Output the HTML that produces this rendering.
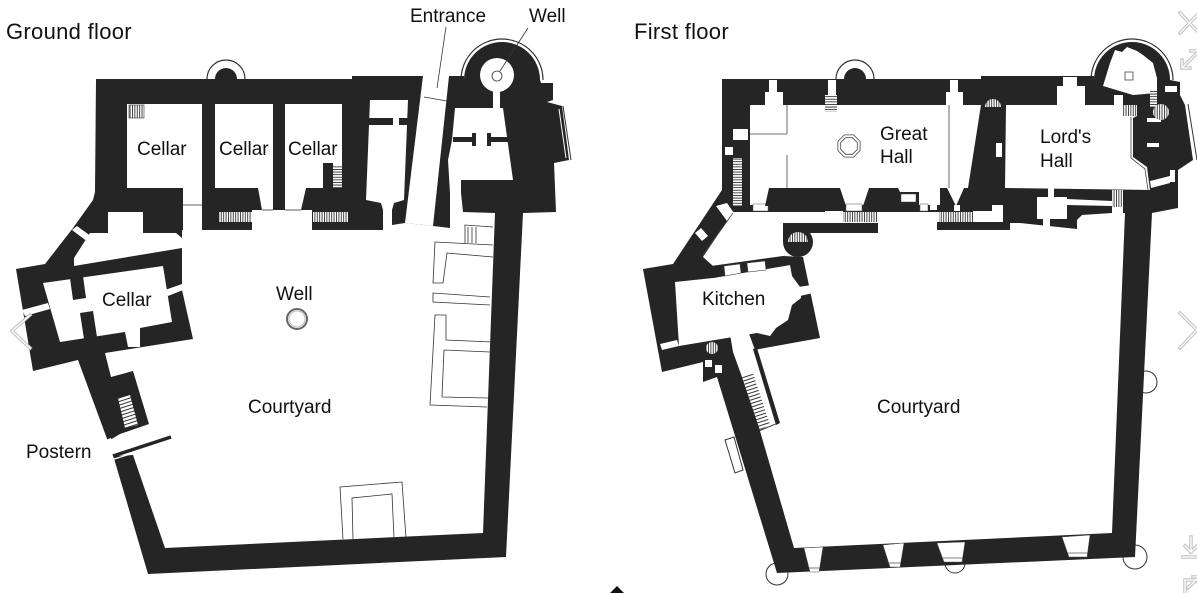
<!DOCTYPE html>
<html><head><meta charset="utf-8"><title>Castle floor plans</title>
<style>
html,body{margin:0;padding:0;background:#fff;overflow:hidden}
svg{display:block}
text{font-family:"Liberation Sans",Arial,sans-serif;fill:#111}
.lbl{font-size:19px}
.ttl{font-size:22px;letter-spacing:0.3px}
</style></head><body>
<svg width="1197" height="593" viewBox="0 0 1197 593" xmlns="http://www.w3.org/2000/svg">
<defs>
<pattern id="vh" width="2.4" height="20" patternUnits="userSpaceOnUse"><rect width="2.4" height="20" fill="#fff"/><rect width="0.9" height="20" fill="#333"/></pattern>
<pattern id="hh" width="20" height="2.6" patternUnits="userSpaceOnUse"><rect width="20" height="2.6" fill="#fff"/><rect width="20" height="0.9" fill="#333"/></pattern>
<pattern id="sh" width="20" height="3.4" patternUnits="userSpaceOnUse" patternTransform="rotate(-18)"><rect width="20" height="3.4" fill="#fff"/><rect width="20" height="1" fill="#333"/></pattern>
</defs>
<rect width="1197" height="593" fill="#fff"/>

<!-- ================= GROUND FLOOR ================= -->
<g>
<circle cx="226" cy="79" r="19" fill="#fff" stroke="#333" stroke-width="1.2"/>
<path d="M461,80 A41,41 0 0 1 543,80" fill="none" stroke="#333" stroke-width="1.2"/>
<line x1="563" y1="106" x2="571" y2="160" stroke="#333" stroke-width="1"/>
<path fill="#252525" d="M96,79 L352,79 L352,76 L464,76 L464,80 A38,38 0 0 1 540,80 L541,83 L553,83 L553,100 L547,102 L562,106 L569,160 L554,163 L556,212 L523,213 L506,557 L148,574 L113,455 L78,360 L33,371 L16,269 L45,264 L73,228 L93,200 L95,192 Z"/>
<circle cx="226" cy="79" r="11" fill="#252525"/>
<line x1="559" y1="109" x2="566" y2="158" stroke="#fff" stroke-width="1"/>

<g fill="#fff">
 <polygon points="127,104 202,104 202,230 183,230 183,188 127,188"/>
 <polygon points="215,104 273,104 273,210 262,210 258,188 215,188"/>
 <polygon points="285,104 342,104 342,188 306,188 301,210 285,210"/>
 <polygon points="370,100 408,100 404,200 394,203 392,210 383,210 381,203 366,200"/>
 <polygon points="423,76 449,76 433,226 405,223"/>
 <circle cx="497" cy="75" r="17"/>
 <rect x="493" y="88" width="7" height="22"/>
 <polygon points="455,108 503,108 513,180 461,180 461,193 450,193 448,160 452,140"/>
 <polygon points="108,212 143,212 143,233 176,233 182,238 182,248 74,266 74,258 90,233 108,233"/>
 <polygon points="72,230 77,226 92,237 88,242"/>
 <polygon points="43,283 163,266 172,322 140,328 140,347 128,347 125,332 60,342"/>
 <polygon points="22,310 48,303 50,309 25,316"/>
 <polygon points="165,290 182,284 183,290 168,296"/>
 <polygon points="183,230 252,230 252,210 312,210 312,230 383,230 383,210 392,210 392,225 405,223 433,226 450,228 450,193 461,193 463,212 495,213 483,533 165,548 133,455 116,456 110,440 120,434 149,424 133,371 111,377 105,353 193,339 182,290 182,230"/>
 <polygon points="105,440 111,438 116,455 110,457"/>
</g>

<g fill="#252525">
 <polygon points="70,278 83,276 86,298 73,300"/>
 <polygon points="80,313 93,311 97,337 84,339"/>
 <rect x="366" y="118" width="27" height="7"/>
 <rect x="399" y="118" width="9" height="7"/>
 <rect x="453" y="137" width="22" height="5"/>
 <rect x="472" y="133" width="4" height="13"/>
 <rect x="488" y="137" width="22" height="5"/>
 <rect x="487" y="133" width="4" height="13"/>
 <rect x="323" y="163" width="10" height="32"/>
 <rect x="321" y="193" width="21" height="7"/>
</g>

<rect x="129" y="105" width="15" height="13" fill="url(#vh)" stroke="#333" stroke-width="0.6"/>
<rect x="219" y="212" width="33" height="10" fill="url(#vh)"/>
<rect x="313" y="212" width="35" height="10" fill="url(#vh)"/>
<rect x="333" y="165" width="9" height="23" fill="url(#hh)"/>
<polygon points="118,398 130,395 138,425 125,428" fill="url(#sh)"/>

<g stroke="#333" stroke-width="0.8" fill="none">
 <line x1="183" y1="205" x2="202" y2="205"/>
 <line x1="262" y1="210" x2="273" y2="210"/>
 <line x1="285" y1="210" x2="301" y2="210"/>
 <line x1="424" y1="97" x2="447" y2="101"/>
 <circle cx="497" cy="76" r="5"/>
 <line x1="446" y1="27" x2="437" y2="88"/>
 <line x1="528" y1="28" x2="500" y2="71"/>
 <polyline points="493,227 465,225 465,243"/>
 <line x1="468" y1="227" x2="468" y2="243"/>
 <line x1="472" y1="227" x2="472" y2="243"/>
 <line x1="476" y1="227" x2="476" y2="243"/>
 <polyline points="493,245 435,242 433,283 443,283 447,253 493,257"/>
 <polyline points="490,297 433,293 433,302 490,305"/>
 <polyline points="446,315 435,315 430,405 487,407"/>
 <polyline points="446,315 446,340 492,342"/>
 <line x1="444" y1="350" x2="490" y2="352"/>
 <polyline points="444,350 442,397 488,398"/>
 <polyline points="343,539 340,487 402,482 406,538"/>
 <polyline points="353,539 352,498 392,494 394,538"/>
</g>
<line x1="113" y1="456" x2="171" y2="437" stroke="#252525" stroke-width="3.5"/>
<line x1="111" y1="460" x2="140" y2="451" stroke="#fff" stroke-width="1.2"/>
<circle cx="297" cy="319" r="10" fill="none" stroke="#666" stroke-width="2"/>
<circle cx="297" cy="319" r="8" fill="none" stroke="#bbb" stroke-width="1"/>

<text class="ttl" x="6" y="39">Ground floor</text>
<text class="lbl" x="410" y="22">Entrance</text>
<text class="lbl" x="529" y="22">Well</text>
<text class="lbl" x="137" y="155">Cellar</text>
<text class="lbl" x="219" y="155">Cellar</text>
<text class="lbl" x="288" y="155">Cellar</text>
<text class="lbl" x="102" y="306">Cellar</text>
<text class="lbl" x="276" y="300">Well</text>
<text class="lbl" x="248" y="413">Courtyard</text>
<text class="lbl" x="26" y="458">Postern</text>
</g>

<!-- ================= FIRST FLOOR ================= -->
<g>
<circle cx="855" cy="79" r="19" fill="#fff" stroke="#333" stroke-width="1.2"/>
<path d="M1091,80 A41,41 0 0 1 1173,80" fill="none" stroke="#333" stroke-width="1.2"/>
<line x1="1188" y1="104" x2="1197" y2="160" stroke="#333" stroke-width="1"/>
<g fill="none" stroke="#333" stroke-width="1">
 <circle cx="777" cy="574" r="11"/>
 <circle cx="955" cy="563" r="10"/>
 <circle cx="1135" cy="557" r="12"/>
 <circle cx="1146" cy="382" r="11"/>
 <polygon points="725,440 734,437 743,470 735,473" fill="#fff"/>
</g>
<path fill="#252525" d="M722,79 L981,79 L981,76 L1094,76 L1094,80 A38,38 0 0 1 1170,80 L1180,82 L1180,95 L1185,105 L1193,160 L1178,170 L1178,208 L1152,213 L1135,557 L777,573 L717,377 L703,382 L703,362 L662,372 L643,269 L673,264 L720,193 L722,190 Z"/>
<circle cx="855" cy="79" r="11" fill="#252525"/>

<g fill="#fff">
 <polygon points="750,105 981,105 968,188 940,188 940,205 750,205"/>
 <polygon points="1006,105 1057,105 1057,86 1085,86 1085,105 1137,105 1137,116 1133,118 1133,157 1147,167 1150,190 1005,188"/>
 <rect x="1063" y="77" width="14" height="9"/>
 <polygon points="1103,86 1110,63 1115,50 1122,52 1127,47 1137,51 1143,55 1153,63 1157,78 1157,93 1133,95"/>
 <rect x="1114" y="95" width="9" height="10"/>
 <rect x="1165" y="86" width="12" height="6"/>
 <rect x="1147" y="118" width="14" height="4"/>
 <rect x="1147" y="143" width="12" height="4"/>
 <rect x="1170" y="170" width="5" height="12"/>
 <polygon points="1150,181 1170,176 1170,183 1151,188"/>
 <polygon points="752,212 1003,212 1003,223 1020,223 1077,229 1077,220 1082,215 1112,213 1125,213 1112,533 794,548 760,431 779,423 754,350 820,338 803,257 713,266 703,257 733,212"/>
 <polygon points="675,282 713,278 790,265 792,276 800,287 801,298 792,305 788,320 776,328 770,336 757,333 679,346"/>
 <polygon points="798,287 812,285 813,293 800,296"/>
 <polygon points="730,334 748,331 755,350 777,423 760,430 742,377 733,352"/>
 <polygon points="660,344 677,340 679,346 662,350"/>
 <polygon points="716,206 727,203 736,216 727,221"/>
 <polygon points="695,233 701,228 708,236 702,241"/>
 <rect x="705" y="360" width="7" height="7"/>
 <rect x="715" y="365" width="7" height="8"/>
 <rect x="733" y="129" width="15" height="11"/>
 <rect x="725" y="147" width="8" height="8"/>
 <rect x="765" y="92" width="18" height="13"/>
 <rect x="769" y="80" width="8" height="12"/>
 <rect x="946" y="92" width="17" height="13"/>
 <rect x="950" y="80" width="8" height="12"/>
 <rect x="828" y="80" width="8" height="15"/>
 <rect x="996" y="143" width="6" height="14"/>
 <rect x="1037" y="197" width="30" height="22"/>
 <rect x="1048" y="187" width="6" height="10"/>
 <rect x="1043" y="217" width="7" height="9"/>
 <polygon points="1067,199 1112,201 1112,206 1067,205"/>
 <rect x="973" y="211" width="30" height="11"/>
 <rect x="825" y="211" width="18" height="12"/>
 <rect x="992" y="205" width="11" height="7"/>
 <polygon points="947,188 964,188 956,206"/>
 <rect x="954" y="205" width="6" height="6"/>
 <rect x="930" y="203" width="7" height="7"/>
</g>

<g fill="#fff" stroke="#555" stroke-width="0.5">
 <polygon points="804,548 823,547 819,572 810,572"/>
 <polygon points="883,545 904,543 900,567 890,567"/>
 <polygon points="937,543 965,542 962,562 944,562"/>
 <polygon points="1062,537 1090,535 1087,557 1069,557"/>
 <rect x="753" y="204" width="15" height="7"/>
 <rect x="846" y="204" width="16" height="7"/>
 <rect x="920" y="204" width="8" height="7"/>
</g>
<g stroke="#555" stroke-width="0.8">
 <line x1="809" y1="568" x2="820" y2="568"/>
 <line x1="889" y1="563" x2="901" y2="563"/>
 <line x1="943" y1="558" x2="963" y2="558"/>
 <line x1="1068" y1="553" x2="1088" y2="553"/>
</g>

<g fill="#252525">
 <polygon points="769,188 840,188 846,206 765,206"/>
 <polygon points="869,188 898,188 900,192 919,192 919,206 863,206"/>
 <rect x="785" y="223" width="93" height="10"/>
 <rect x="783" y="223" width="15" height="19"/>
 <circle cx="798" cy="242" r="15"/>
 <rect x="937" y="222" width="73" height="8"/>
 <polygon points="711,266 783,256 803,257 803,266 790,265 713,278"/>
 <polygon points="753,349 757,348 780,423 776,425"/>
</g>
<rect x="901" y="194" width="15" height="8" fill="#fff" stroke="#444" stroke-width="0.5"/>
<g fill="#fff" stroke="#444" stroke-width="0.6">
 <polygon points="724,266 740,264 741,273 725,276"/>
 <polygon points="747,263 765,261 766,270 748,272"/>
</g>

<rect x="733" y="158" width="9" height="48" fill="url(#hh)"/>
<rect x="825" y="95" width="12" height="17" fill="url(#hh)"/>
<rect x="843" y="212" width="34" height="10" fill="url(#vh)"/>
<rect x="939" y="212" width="34" height="10" fill="url(#vh)"/>
<rect x="1123" y="105" width="14" height="11" fill="url(#vh)"/>
<rect x="1150" y="90" width="7" height="17" fill="url(#hh)"/>
<rect x="1112" y="190" width="11" height="17" fill="url(#vh)"/>
<rect x="1112" y="207" width="11" height="6" fill="#fff"/>
<polygon points="742,377 753,373 770,425 760,430" fill="url(#sh)"/>
<path d="M788,242 A10,10 0 0 1 808,242 Z" fill="url(#vh)"/>
<circle cx="1161" cy="112" r="8" fill="url(#vh)"/>
<circle cx="712" cy="348" r="6" fill="url(#vh)"/>
<path d="M985,107 A8,8 0 0 1 1001,107 Z" fill="url(#vh)"/>

<g stroke="#444" stroke-width="0.8" fill="none">
 <line x1="750" y1="134" x2="787" y2="134"/>
 <line x1="787" y1="105" x2="787" y2="134"/>
 <line x1="787" y1="155" x2="787" y2="188"/>
 <line x1="949" y1="105" x2="949" y2="188"/>
 <polyline points="1131,117 1131,158 1145,169 1148,190"/>
 <rect x="1125" y="72" width="8" height="8"/>
 <line x1="703" y1="255" x2="733" y2="213"/>
 <polygon points="860.1,141.4 853.6,134.9 844.4,134.9 837.9,141.4 837.9,150.6 844.4,157.1 853.6,157.1 860.1,150.6"/>
 <polygon points="857.3,142.6 852.4,137.7 845.6,137.7 840.7,142.6 840.7,149.4 845.6,154.3 852.4,154.3 857.3,149.4"/>
</g>

<text class="ttl" x="634" y="39">First floor</text>
<text class="lbl" x="880" y="140">Great</text>
<text class="lbl" x="880" y="163">Hall</text>
<text class="lbl" x="1040" y="143">Lord's</text>
<text class="lbl" x="1040" y="167">Hall</text>
<text class="lbl" x="702" y="305">Kitchen</text>
<text class="lbl" x="877" y="413">Courtyard</text>
</g>

<g fill="none" stroke-linecap="square">
 <g stroke="#c4c4c4" stroke-width="3.5">
  <path d="M1180,13 L1199,33 M1199,13 L1180,33"/>
  <path d="M1182,68 L1199,51 M1182,60 L1182,68 L1190,68 M1191,51 L1199,51 L1199,59"/>
  <path d="M30,315 L12,331 L30,348"/>
  <path d="M1180,313 L1197,330 L1180,348"/>
  <path d="M1191,537 L1191,552 M1185,546 L1191,552 L1197,546 M1183,557 L1199,557"/>
  <path d="M1195,580 L1185,580 L1185,593 M1188,588 L1198,578 M1193,577 L1198,577 L1198,582"/>
 </g>
 <g stroke="#fff" stroke-width="1.3">
  <path d="M1180,13 L1199,33 M1199,13 L1180,33"/>
  <path d="M1182,68 L1199,51 M1182,60 L1182,68 L1190,68 M1191,51 L1199,51 L1199,59"/>
  <path d="M30,315 L12,331 L30,348"/>
  <path d="M1180,313 L1197,330 L1180,348"/>
  <path d="M1191,537 L1191,552 M1185,546 L1191,552 L1197,546 M1183,557 L1199,557"/>
  <path d="M1195,580 L1185,580 L1185,593 M1188,588 L1198,578 M1193,577 L1198,577 L1198,582"/>
 </g>
</g>
<polygon points="610,593 617,586 624,593" fill="#111"/>
</svg>
</body></html>
